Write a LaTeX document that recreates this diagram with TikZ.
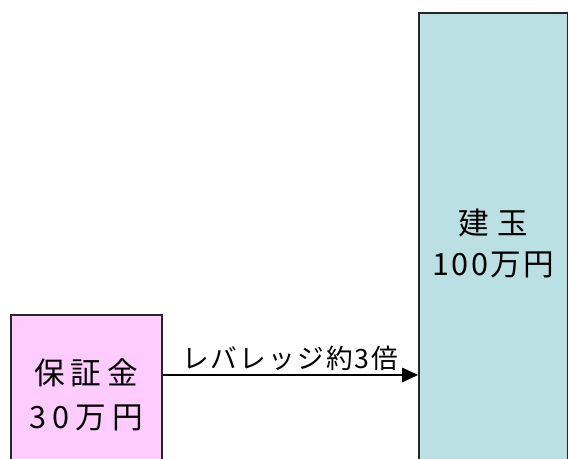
\documentclass[tikz,border=0pt]{standalone}
\usepackage{fontspec}
\setmainfont{Noto Sans CJK JP}
\usetikzlibrary{arrows.meta}
\definecolor{pinkfill}{HTML}{FFCCFF}
\definecolor{bluefill}{HTML}{BBE0E3}
\tikzset{
  box/.style={draw=black!85, line width=1.2pt, rectangle, inner sep=0pt, align=center, anchor=north west},
  boxtext/.style={font=\fontsize{23pt}{33pt}\selectfont\addfontfeature{LetterSpace=20}},
  arrowline/.style={line width=0.8pt, -{Triangle[length=12pt,width=11pt]}},
  lbl/.style={font=\fontsize{20pt}{24pt}\selectfont\addfontfeature{LetterSpace=8}, above, inner sep=3pt}
}
\begin{document}
\begin{tikzpicture}[x=0.75pt,y=-0.75pt]
\useasboundingbox (0,0) rectangle (568,459);
\clip (0,0) rectangle (568,459);
\node[box, fill=pinkfill, minimum width=113.25pt, minimum height=120pt, boxtext] (lb) at (10,314) {保証金\\30万円};
\node[box, fill=bluefill, minimum width=111.75pt, minimum height=346.5pt, font=\fontsize{23pt}{31pt}\selectfont\addfontfeature{LetterSpace=8}] (rb) at (418,12) {{\addfontfeature{LetterSpace=25}建玉}\\100万円};
\coordinate (ay) at (0,375);
\draw[arrowline] (lb.east |- ay) -- (rb.west |- ay) node[midway, lbl] (lab) {レバレッジ約3倍};
\end{tikzpicture}
\end{document}
